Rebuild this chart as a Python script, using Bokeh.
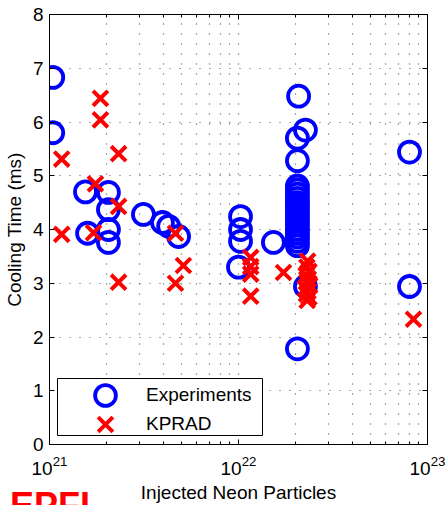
from bokeh.plotting import figure
from bokeh.models import (Range1d, LogAxis, LinearAxis, Legend, LegendItem, Div,
                          FixedTicker, CustomJSTickFormatter, BoxAnnotation)
from bokeh.layouts import column
from bokeh.embed import file_html
from bokeh.resources import INLINE

# Experiments (blue circles)
exp_x = [1.04e21, 1.04e21, 1.55e21, 1.59e21, 2.05e21, 2.05e21, 2.05e21, 2.05e21,
         3.14e21, 3.96e21, 4.27e21, 4.82e21,
         1.025e22, 1.025e22, 1.025e22, 1.0e22, 1.53e22,
         2.08e22, 2.26e22, 2.05e22, 2.05e22,
         2.05e22, 2.05e22, 2.05e22, 2.05e22, 2.05e22, 2.05e22, 2.05e22, 2.05e22,
         2.05e22, 2.05e22, 2.05e22, 2.05e22, 2.05e22, 2.05e22, 2.05e22, 2.05e22,
         2.26e22, 2.05e22, 8.03e22, 8.03e22]
exp_y = [6.83, 5.80, 4.70, 3.93, 4.69, 4.37, 4.00, 3.76,
         4.28, 4.13, 4.06, 3.87,
         4.24, 4.00, 3.78, 3.30, 3.76,
         6.48, 5.85, 5.70, 5.28,
         4.81, 4.74, 4.66, 4.58, 4.50, 4.44, 4.37, 4.30,
         4.22, 4.15, 4.08, 4.00, 3.93, 3.86, 3.78, 3.70,
         2.94, 1.78, 5.44, 2.94]

# KPRAD (red crosses)
kp_x = [1.16e21, 1.16e21, 1.86e21, 1.86e21, 1.75e21, 1.71e21, 2.32e21, 2.32e21, 2.32e21,
        4.64e21, 5.11e21, 4.64e21,
        1.16e22, 1.16e22, 1.16e22, 1.16e22, 1.73e22,
        2.32e22, 2.30e22, 2.36e22, 2.28e22, 2.34e22, 2.30e22, 2.38e22, 2.26e22,
        2.33e22, 2.29e22, 2.36e22, 2.31e22,
        8.43e22]
kp_y = [5.31, 3.91, 6.44, 6.04, 4.85, 3.94, 5.41, 4.43, 3.02,
        3.93, 3.33, 3.00,
        3.48, 3.31, 3.17, 2.76, 3.20,
        3.41, 3.30, 3.22, 3.15, 3.08, 3.02, 2.96, 2.90,
        2.85, 2.80, 2.74, 2.68,
        2.33]

x_ticks = [1e21, 1e22, 1e23]
x_minor = [m * t for t in x_ticks[:-1] for m in range(2, 10)]
y_ticks = [0, 1, 2, 3, 4, 5, 6, 7, 8]

FONT = "Liberation Sans"

p = figure(width=446, height=505, x_axis_type="log",
           x_range=Range1d(1e21, 1e23), y_range=Range1d(0, 8),
           output_backend="svg", toolbar_location=None,
           min_border_left=49, min_border_right=19,
           min_border_top=14, min_border_bottom=59, margin=0)

p.background_fill_color = "white"
p.border_fill_color = "white"
p.outline_line_color = "black"
p.outline_line_width = 1

# Axes
xa = p.xaxis[0]
xa.ticker = FixedTicker(ticks=x_ticks, minor_ticks=x_minor)
ya = p.yaxis[0]
ya.ticker = FixedTicker(ticks=y_ticks)

for ax in (xa, ya):
    ax.major_tick_in = 5
    ax.major_tick_out = 0
    ax.minor_tick_in = 3
    ax.minor_tick_out = 0
    ax.axis_line_color = "black"
    ax.major_tick_line_color = "black"
    ax.minor_tick_line_color = "black"
    ax.major_label_text_font = FONT
    ax.major_label_text_font_size = "19px"
    ax.major_label_text_color = "black"
    ax.axis_label_text_font = FONT
    ax.axis_label_text_font_size = "19px"
    ax.axis_label_text_font_style = "normal"
    ax.axis_label_text_color = "black"

ya.minor_tick_line_color = None
xa.major_label_standoff = 11
ya.major_label_standoff = 6
xa.axis_label = "Injected Neon Particles"
ya.axis_label = "Cooling Time (ms)"
xa.axis_label_standoff = 4
ya.axis_label_standoff = 5

blank = CustomJSTickFormatter(code="return ''")
top = LogAxis(ticker=FixedTicker(ticks=x_ticks, minor_ticks=x_minor),
              formatter=blank,
              major_tick_in=5, major_tick_out=0, minor_tick_in=3, minor_tick_out=0,
              major_label_standoff=0, axis_line_color="black")
right = LinearAxis(ticker=FixedTicker(ticks=y_ticks), formatter=blank,
                   major_tick_in=5, major_tick_out=0, minor_tick_line_color=None,
                   major_label_standoff=0, axis_line_color="black")
p.add_layout(top, "above")
p.add_layout(right, "right")

# Grid (dotted)
p.xgrid.ticker = FixedTicker(ticks=x_ticks, minor_ticks=x_minor)
p.xgrid.grid_line_color = "#555555"
p.xgrid.grid_line_dash = "1 9"
p.xgrid.grid_line_width = 1.2
p.xgrid.minor_grid_line_color = "#555555"
p.xgrid.minor_grid_line_dash = "1 9"
p.xgrid.minor_grid_line_width = 1.2
p.ygrid.ticker = FixedTicker(ticks=y_ticks)
p.ygrid.grid_line_color = "#555555"
p.ygrid.grid_line_dash = "1 9"
p.ygrid.grid_line_width = 1.2

r_exp = p.scatter(exp_x, exp_y, marker="circle", size=21, fill_color=None,
                  line_color="#0000FF", line_width=3.8)
r_kp = p.scatter(kp_x, kp_y, marker="x", size=21, line_color="#FF0000",
                 line_width=4)

# Legend frame (box), then one legend per entry drawn on top of it
legend_box = BoxAnnotation(left=8, right=213, bottom=9, top=66,
                           left_units="screen", right_units="screen",
                           bottom_units="screen", top_units="screen",
                           fill_color="white", fill_alpha=1,
                           line_color="black", line_width=1, line_alpha=1)
p.add_layout(legend_box)

common = dict(orientation="vertical", padding=0, spacing=0, margin=0,
              glyph_width=60, glyph_height=52, label_height=52,
              label_standoff=11,
              label_text_font=FONT, label_text_font_size="19px",
              label_text_color="black",
              border_line_color=None,
              background_fill_color=None, background_fill_alpha=0)
leg1 = Legend(items=[LegendItem(label="Experiments", renderers=[r_exp])],
              location=(26, 23), **common)
leg2 = Legend(items=[LegendItem(label="KPRAD", renderers=[r_kp])],
              location=(26, -6), **common)
p.add_layout(leg1)
p.add_layout(leg2)

logo = Div(text="EPFL", margin=(-17, 0, 0, 10),
           styles={"color": "#FF0000", "font-family": FONT, "font-weight": "bold",
                   "font-size": "36px", "line-height": "36px"})

open("out.html", "w").write(file_html(column(p, logo, spacing=0), INLINE))
